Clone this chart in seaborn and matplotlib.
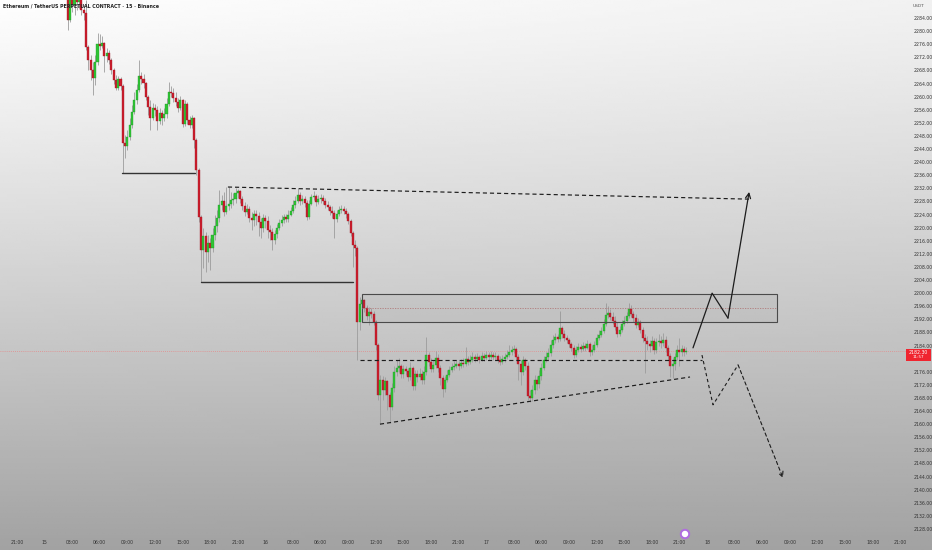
import numpy as np
import pandas as pd
import matplotlib
matplotlib.use("Agg")
import matplotlib.pyplot as plt
from matplotlib.patches import Rectangle, Ellipse
import seaborn as sns

# ETHUSDT perp, 15m candles, first bar = 15th 02:30
first_open = 2293.0
close = [
    2283.4, 2291.0, 2288.0, 2291.9, 2288.9, 2290.4, 2286.4, 2285.5, 2275.2, 2271.2,
    2268.1, 2265.7, 2270.6, 2276.1, 2275.5, 2276.4, 2272.4, 2273.3, 2271.2, 2268.1,
    2265.1, 2262.6, 2265.4, 2263.2, 2245.8, 2244.9, 2247.7, 2251.3, 2255.3, 2259.0,
    2262.0, 2266.3, 2265.4, 2264.2, 2259.9, 2256.8, 2253.5, 2256.5, 2255.9, 2252.6,
    2255.0, 2253.5, 2254.7, 2257.7, 2261.4, 2261.1, 2259.6, 2258.4, 2256.5, 2259.0,
    2251.7, 2257.7, 2252.9, 2251.3, 2253.5, 2246.8, 2237.6, 2223.2, 2213.2, 2217.4,
    2212.6, 2215.3, 2213.8, 2217.8, 2220.5, 2222.9, 2226.9, 2228.1, 2224.8, 2226.6,
    2227.2, 2228.4, 2228.7, 2230.6, 2231.2, 2228.7, 2226.6, 2224.8, 2225.7, 2222.9,
    2222.3, 2224.2, 2223.6, 2221.7, 2219.9, 2222.9, 2222.0, 2219.3, 2218.7, 2216.2,
    2218.1, 2219.9, 2221.4, 2222.3, 2223.2, 2222.6, 2223.9, 2225.1, 2226.9, 2228.1,
    2230.0, 2228.1, 2228.7, 2227.5, 2223.2, 2227.2, 2229.4, 2229.7, 2227.8, 2228.7,
    2229.1, 2228.1, 2226.9, 2226.3, 2225.1, 2224.5, 2222.6, 2224.2, 2225.4, 2225.7,
    2225.1, 2224.2, 2222.0, 2218.4, 2214.7, 2213.8, 2191.2, 2196.7, 2197.9, 2195.5,
    2193.0, 2194.2, 2193.6, 2191.2, 2184.2, 2168.9, 2173.5, 2170.4, 2173.2, 2168.9,
    2165.2, 2171.0, 2175.9, 2177.2, 2177.8, 2175.3, 2176.9, 2176.2, 2174.4, 2177.2,
    2171.7, 2175.3, 2174.4, 2175.3, 2173.5, 2175.9, 2181.1, 2179.0, 2176.9, 2178.1,
    2180.2, 2177.2, 2174.1, 2170.7, 2173.5, 2175.0, 2176.5, 2177.5, 2177.8, 2178.4,
    2177.8, 2178.7, 2178.4, 2179.9, 2179.0, 2179.6, 2180.5, 2179.9, 2180.5, 2179.6,
    2180.8, 2180.2, 2181.1, 2180.5, 2181.1, 2180.5, 2180.8, 2179.6, 2179.0, 2179.9,
    2180.5, 2181.1, 2182.0, 2182.6, 2183.0, 2180.5, 2178.4, 2175.9, 2179.6, 2177.8,
    2168.6, 2168.0, 2170.4, 2173.5, 2172.3, 2174.7, 2177.2, 2179.6, 2180.5, 2181.7,
    2184.2, 2185.7, 2186.6, 2186.0, 2189.4, 2187.5, 2186.3, 2185.7, 2184.5, 2183.3,
    2181.1, 2182.6, 2183.6, 2183.0, 2183.9, 2183.3, 2184.5, 2182.0, 2182.6, 2184.2,
    2186.3, 2187.2, 2188.4, 2190.6, 2193.3, 2193.9, 2192.7, 2191.5, 2189.7, 2187.5,
    2188.8, 2190.6, 2191.5, 2193.0, 2195.2, 2193.6, 2192.4, 2190.3, 2191.2, 2188.8,
    2186.3, 2185.4, 2184.5, 2183.9, 2185.4, 2182.6, 2185.1, 2185.4, 2184.8, 2185.7,
    2183.3, 2180.8, 2177.8, 2178.4, 2180.5, 2182.6, 2182.0, 2183.0, 2182.0, 2182.3,
]
high = [
    2294.0, 2294.1, 2293.2, 2295.6, 2294.1, 2293.2, 2291.0, 2288.0, 2289.5, 2275.8,
    2272.7, 2270.6, 2272.7, 2279.4, 2279.1, 2278.5, 2276.7, 2274.8, 2274.2, 2271.8,
    2268.7, 2266.6, 2266.3, 2266.0, 2263.9, 2248.3, 2249.8, 2253.5, 2257.4, 2261.4,
    2263.9, 2271.2, 2267.5, 2266.9, 2264.5, 2260.5, 2259.0, 2258.1, 2257.7, 2257.1,
    2256.5, 2255.9, 2256.5, 2259.6, 2264.5, 2263.2, 2262.6, 2261.4, 2259.6, 2260.2,
    2259.3, 2259.0, 2258.4, 2254.1, 2254.4, 2253.8, 2247.4, 2238.2, 2223.9, 2219.9,
    2218.7, 2217.8, 2216.8, 2219.9, 2223.9, 2225.4, 2231.5, 2230.0, 2230.9, 2232.4,
    2232.4, 2230.9, 2230.6, 2232.1, 2231.8, 2231.5, 2229.7, 2227.8, 2227.2, 2226.6,
    2224.8, 2225.4, 2225.4, 2224.8, 2222.9, 2224.2, 2223.9, 2223.6, 2220.8, 2219.9,
    2219.3, 2221.1, 2222.6, 2223.9, 2224.2, 2224.2, 2225.4, 2226.3, 2228.4, 2229.7,
    2232.1, 2230.9, 2230.0, 2229.7, 2228.4, 2228.4, 2230.3, 2231.2, 2230.3, 2230.0,
    2230.3, 2230.0, 2229.1, 2228.1, 2226.9, 2226.6, 2225.4, 2225.4, 2226.6, 2226.9,
    2226.6, 2226.0, 2224.8, 2222.6, 2219.0, 2216.2, 2214.4, 2198.8, 2199.1, 2198.2,
    2196.4, 2195.8, 2195.5, 2194.6, 2191.8, 2184.8, 2175.0, 2174.7, 2174.4, 2173.5,
    2169.8, 2172.6, 2177.8, 2179.6, 2180.2, 2178.4, 2178.1, 2177.8, 2177.2, 2179.0,
    2177.8, 2176.5, 2176.5, 2177.2, 2176.5, 2177.8, 2186.6, 2182.0, 2180.2, 2179.6,
    2182.3, 2181.4, 2178.1, 2175.0, 2174.7, 2176.5, 2177.8, 2178.7, 2179.3, 2179.6,
    2179.3, 2179.9, 2180.2, 2183.6, 2180.8, 2181.1, 2182.0, 2181.4, 2181.7, 2181.1,
    2182.0, 2181.7, 2182.3, 2182.0, 2182.3, 2182.0, 2182.0, 2181.4, 2180.8, 2181.1,
    2181.7, 2182.6, 2184.2, 2183.9, 2184.2, 2183.6, 2181.4, 2179.6, 2180.8, 2180.2,
    2179.0, 2170.4, 2172.0, 2175.0, 2174.7, 2176.5, 2178.7, 2180.8, 2182.0, 2183.3,
    2185.7, 2187.2, 2187.8, 2187.5, 2194.6, 2190.0, 2188.8, 2187.2, 2186.3, 2185.1,
    2184.2, 2183.9, 2184.8, 2184.5, 2185.1, 2184.8, 2185.7, 2185.1, 2184.2, 2185.4,
    2187.5, 2188.8, 2189.7, 2192.1, 2197.0, 2196.1, 2195.2, 2194.2, 2193.0, 2191.2,
    2190.0, 2191.8, 2193.0, 2194.2, 2197.0, 2196.4, 2194.6, 2193.6, 2192.4, 2191.8,
    2189.7, 2187.5, 2186.9, 2185.7, 2186.9, 2186.3, 2186.3, 2187.5, 2186.9, 2187.8,
    2186.9, 2184.2, 2181.7, 2180.2, 2181.7, 2184.2, 2186.3, 2184.2, 2183.9, 2183.6,
]
low = [
    2280.3, 2282.8, 2285.8, 2284.9, 2286.4, 2287.1, 2284.9, 2283.4, 2274.2, 2268.1,
    2265.1, 2260.5, 2263.5, 2269.7, 2274.2, 2274.8, 2267.5, 2270.6, 2270.0, 2266.9,
    2263.9, 2262.0, 2262.0, 2262.0, 2236.7, 2241.3, 2243.7, 2246.8, 2250.4, 2254.7,
    2257.7, 2261.4, 2263.9, 2262.6, 2259.0, 2254.4, 2249.8, 2252.9, 2254.1, 2249.8,
    2251.7, 2251.3, 2252.6, 2253.5, 2257.1, 2259.9, 2258.4, 2257.1, 2255.3, 2255.9,
    2250.7, 2251.0, 2251.7, 2250.4, 2250.4, 2244.3, 2236.1, 2221.7, 2203.4, 2207.7,
    2206.5, 2209.5, 2207.1, 2212.6, 2216.2, 2218.7, 2221.7, 2225.4, 2223.6, 2224.2,
    2225.4, 2226.0, 2226.9, 2227.5, 2229.1, 2227.5, 2225.4, 2223.6, 2224.2, 2221.7,
    2219.3, 2220.5, 2220.8, 2217.4, 2216.8, 2218.7, 2219.9, 2216.8, 2216.2, 2213.2,
    2215.0, 2216.8, 2219.3, 2220.5, 2221.4, 2221.7, 2221.7, 2223.6, 2224.5, 2226.0,
    2227.5, 2226.9, 2227.2, 2226.3, 2222.3, 2222.6, 2226.9, 2228.4, 2226.6, 2227.2,
    2227.5, 2227.2, 2226.0, 2225.4, 2223.9, 2222.9, 2216.8, 2221.7, 2223.6, 2224.5,
    2224.2, 2222.9, 2221.1, 2217.4, 2208.0, 2211.3, 2179.6, 2188.8, 2195.5, 2194.2,
    2191.8, 2190.3, 2192.4, 2190.3, 2182.6, 2167.4, 2160.0, 2167.4, 2168.9, 2164.3,
    2160.4, 2164.3, 2169.8, 2174.7, 2175.9, 2174.1, 2174.1, 2175.0, 2173.2, 2173.5,
    2170.4, 2170.4, 2172.9, 2173.5, 2172.3, 2172.3, 2175.0, 2177.8, 2175.9, 2175.9,
    2177.2, 2175.9, 2172.0, 2168.3, 2169.8, 2172.9, 2174.4, 2175.9, 2176.5, 2177.2,
    2176.5, 2177.2, 2177.5, 2177.8, 2178.1, 2178.4, 2179.0, 2179.0, 2179.3, 2178.7,
    2179.3, 2179.3, 2179.6, 2179.6, 2179.9, 2179.6, 2179.6, 2178.7, 2178.1, 2178.4,
    2179.0, 2179.9, 2180.5, 2181.1, 2181.7, 2179.6, 2173.5, 2172.0, 2175.0, 2176.5,
    2167.4, 2166.8, 2167.1, 2169.2, 2170.4, 2171.0, 2173.5, 2176.5, 2179.0, 2179.6,
    2180.8, 2183.3, 2184.8, 2185.1, 2185.4, 2186.3, 2185.4, 2184.8, 2183.6, 2182.3,
    2180.2, 2180.5, 2182.0, 2182.0, 2182.3, 2182.3, 2183.0, 2180.8, 2181.1, 2182.0,
    2183.6, 2185.7, 2186.6, 2187.8, 2190.0, 2192.4, 2191.8, 2190.6, 2188.8, 2186.6,
    2186.9, 2188.1, 2190.0, 2190.9, 2192.4, 2192.7, 2191.2, 2189.4, 2189.7, 2187.8,
    2185.1, 2175.6, 2182.6, 2182.0, 2182.6, 2181.4, 2181.7, 2183.9, 2183.3, 2183.9,
    2182.0, 2179.6, 2174.4, 2174.1, 2176.5, 2179.6, 2177.8, 2180.8, 2180.8, 2181.4,
]
last_price = 2182.3
countdown = "11:57"

# time axis: labels every 3h (12 bars), first one is 14th 21:00
time_labels = [
    "21:00", "15", "03:00", "06:00", "09:00", "12:00", "15:00", "18:00",
    "21:00", "16", "03:00", "06:00", "09:00", "12:00", "15:00", "18:00",
    "21:00", "17", "03:00", "06:00", "09:00", "12:00", "15:00", "18:00",
    "21:00", "18", "03:00", "06:00", "09:00", "12:00", "15:00", "18:00",
    "21:00",
]
time_label_start = -22
price_ticks = list(range(2128, 2288, 4))
hidden_tick = 2180  # sits under the last-price tag

# drawings (bar index, price)
sweep1_bars, sweep1_price = [23.7, 55.4], 2236.7
sweep2_bars, sweep2_price = [58.0, 124.1], 2203.4
top_dash_bars, top_dash_price = [69.7, 296.3], [2232.4, 2228.7]
zone_bars, zone_price = [128.0, 308.4], [2191.2, 2199.7]
zone_mid = 2195.5
base_dash_bars, base_dash_price = [127.1, 275.8], 2179.6
trend_bars, trend_price = [135.8, 270.6], [2160.0, 2174.4]
up_bars = [271.9, 280.2, 287.1, 296.3]
up_price = [2183.3, 2200.0, 2192.4, 2230.9]
down_bars = [275.8, 280.6, 291.5, 311.0]
down_price = [2181.1, 2165.9, 2178.1, 2143.6]

df = pd.DataFrame({"close": close, "high": high, "low": low})
df["open"] = [first_open] + close[:-1]
df["bar"] = np.arange(len(df))
df["up"] = df["close"] >= df["open"]

sns.set_style("white")
plt.rcParams["font.family"] = ["DejaVu Sans"]

W, H = 932, 550
fig = plt.figure(figsize=(W / 100, H / 100), dpi=100)

# background gradient
bg = fig.add_axes([0, 0, 1, 1], zorder=0)
yy, xx = np.mgrid[0:1:200j, 0:1:200j]
shade = 0.995 - 0.36 * yy ** 1.1 - 0.05 * xx * (1 - yy)
bg.imshow(shade, cmap="gray", vmin=0, vmax=1, aspect="auto", extent=[0, 1, 0, 1], origin="upper")
bg.axis("off")

ax = fig.add_axes([0, 13 / H, 906 / W, 537 / H], zorder=1)
ax.patch.set_alpha(0)
ax.set_xlim(-29.39, 364.5)
ax.set_ylim(2125.55, 2289.5)

green, red, wick = "#2fc435", "#cc1d2d", "#9c9c9c"
green_edge, red_edge = "#1f9a26", "#a0121f"
ax.vlines(df["bar"], df["low"], df["high"], color=wick, lw=0.6, zorder=2)
body_lo = df[["open", "close"]].min(axis=1)
body_h = (df["close"] - df["open"]).abs().clip(lower=0.35)
ax.bar(df["bar"], body_h, bottom=body_lo, width=0.88,
       color=np.where(df["up"], green, red),
       edgecolor=np.where(df["up"], green_edge, red_edge), linewidth=0.25, zorder=3)

# price line
ax.axhline(last_price, color="#e58a8a", lw=0.6, ls=(0, (1, 1.5)), zorder=1)

ink = "#1c1c1c"
ax.plot(sweep1_bars, [sweep1_price] * 2, color="#333333", lw=1.0, zorder=4)
ax.plot(sweep2_bars, [sweep2_price] * 2, color="#333333", lw=1.0, zorder=4)
ax.plot(top_dash_bars, top_dash_price, color=ink, lw=0.85, ls=(0, (3.5, 2.5)), zorder=4)
ax.plot(base_dash_bars, [base_dash_price] * 2, color=ink, lw=0.85, ls=(0, (3.5, 2.5)), zorder=4)
ax.plot(trend_bars, trend_price, color=ink, lw=0.85, ls=(0, (3.5, 2.5)), zorder=4)

ax.add_patch(Rectangle((zone_bars[0], zone_price[0]), zone_bars[1] - zone_bars[0],
                       zone_price[1] - zone_price[0], facecolor=(0.45, 0.45, 0.45, 0.07),
                       edgecolor="#4a4a4a", lw=0.8, zorder=4))
ax.plot(zone_bars, [zone_mid] * 2, color="#b07a7a", lw=0.6, ls=(0, (1.5, 1.5)), zorder=4)

ax.plot(up_bars[:-1], up_price[:-1], color=ink, lw=0.9, zorder=5)
ax.annotate("", xy=(up_bars[-1], up_price[-1]), xytext=(up_bars[-2], up_price[-2]),
            arrowprops=dict(arrowstyle="->", color=ink, lw=0.9, shrinkA=0, shrinkB=0,
                            mutation_scale=9), zorder=5)
ax.plot(down_bars[:-1], down_price[:-1], color=ink, lw=0.8, ls=(0, (3, 2.5)), zorder=5)
ax.annotate("", xy=(down_bars[-1], down_price[-1]), xytext=(down_bars[-2], down_price[-2]),
            arrowprops=dict(arrowstyle="->", color=ink, lw=0.8, ls=(0, (3, 2.5)),
                            shrinkA=0, shrinkB=0, mutation_scale=9), zorder=5)

# axes / ticks
ax.yaxis.tick_right()
ax.set_yticks(price_ticks)
ax.set_yticklabels(["" if p == hidden_tick else f"{p:.2f}" for p in price_ticks])
ax.set_xticks([time_label_start + 12 * k for k in range(len(time_labels))])
ax.set_xticklabels(time_labels)
ax.tick_params(axis="both", length=0, labelsize=3.3, colors="#333333")
ax.tick_params(axis="y", pad=5.5)
ax.tick_params(axis="x", pad=2.5)
for s in ax.spines.values():
    s.set_visible(False)

fig.text(3 / W, 1 - 6 / H, "Ethereum / TetherUS PERPETUAL CONTRACT · 15 · Binance",
         fontsize=3.4, color="#222222", fontweight="bold", va="center", ha="left", zorder=6)
fig.text(913 / W, 1 - 6 / H, "USDT", fontsize=3.2, color="#555555", va="center", ha="left", zorder=6)

# last price tag (price on top, countdown below)
tag = fig.add_axes([906 / W, 1 - 361 / H, 25 / W, 12.5 / H], zorder=6)
tag.set_facecolor("#f0242f")
tag.set_xticks([])
tag.set_yticks([])
for s in tag.spines.values():
    s.set_visible(False)
tag.text(0.5, 0.72, f"{last_price:.2f}", color="white", fontsize=3.3, ha="center", va="center")
tag.text(0.5, 0.28, countdown, color="white", fontsize=3.0, ha="center", va="center")

# small logo marker on the time axis
fig.add_artist(Ellipse((685 / W, 1 - 534 / H), 9 / W, 9 / H, color="#b06de0", zorder=6))
fig.add_artist(Ellipse((685 / W, 1 - 534 / H), 5 / W, 5 / H, color="white", zorder=7))

fig.savefig("out.png", dpi=100)
